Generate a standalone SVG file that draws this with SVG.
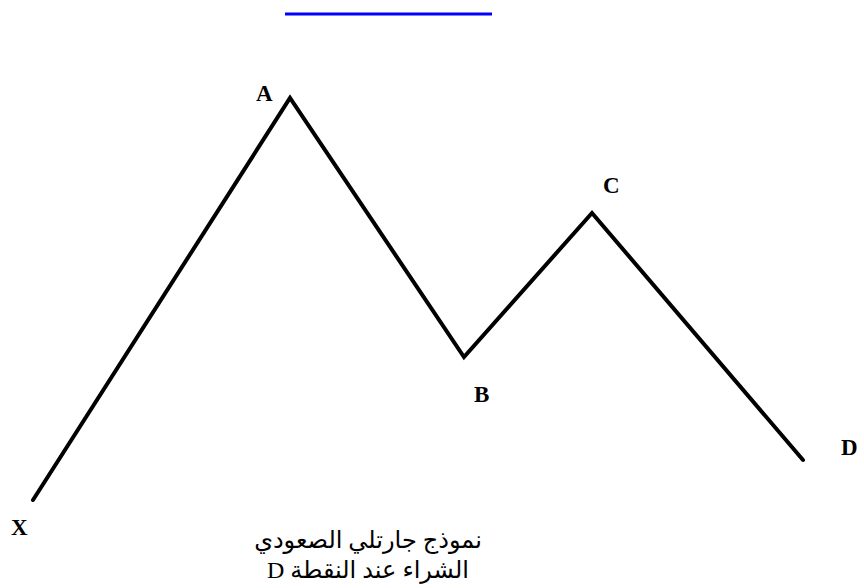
<svg xmlns="http://www.w3.org/2000/svg" width="864" height="588" viewBox="0 0 864 588">
<style>
.lbl{font-family:"Liberation Serif","Times New Roman",serif;font-weight:bold;font-size:23px;fill:#000}
.ar{font-family:"Liberation Serif","DejaVu Sans",serif;font-size:24px;fill:#000}
.wave{fill:none;stroke:#000;stroke-width:4;stroke-linejoin:miter;stroke-linecap:round}
</style>
<rect width="864" height="588" fill="#fff"/>
<line x1="285" y1="14" x2="492" y2="14" stroke="#0000ff" stroke-width="3"/>
<g id="connectors">
<polyline class="wave" points="33,500 290,98 464,357 592,213 803,460"/>
</g>
<g id="X"><text class="lbl" x="11" y="535">X</text></g>
<g id="A"><text class="lbl" x="256" y="101">A</text></g>
<g id="B"><text class="lbl" x="474" y="402">B</text></g>
<g id="C"><text class="lbl" x="603" y="193">C</text></g>
<g id="D"><text class="lbl" x="841" y="455">D</text></g>
<g id="caption">
<text class="ar" x="368" y="548" text-anchor="middle" direction="rtl">نموذج جارتلي الصعودي</text>
<text class="ar" x="368" y="578" text-anchor="middle" direction="rtl">الشراء عند النقطة D</text>
</g>
</svg>
